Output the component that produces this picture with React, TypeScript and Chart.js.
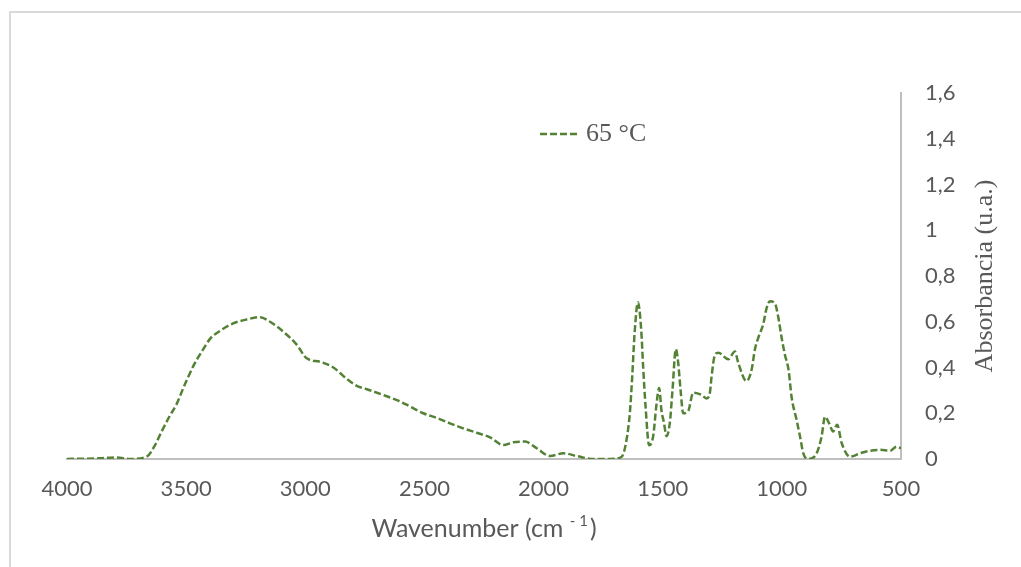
import { useEffect, useRef } from 'react';
import { Chart, registerables } from 'chart.js';

Chart.register(...registerables);

// FTIR spectrum, sample treated at 65 °C
const WAVENUMBERS = [
  4000, 3862, 3792, 3736, 3666, 3631, 3603, 3568, 3540, 3512, 3491, 3463, 3428, 3400,
  3358, 3309, 3246, 3190, 3148, 3085, 3036, 2994, 2938, 2882, 2826, 2784, 2742, 2673,
  2610, 2561, 2505, 2449, 2393, 2337, 2281, 2225, 2169, 2127, 2078, 2029, 1973, 1917,
  1861, 1791, 1721, 1672, 1652, 1638, 1628, 1618, 1604, 1590, 1582, 1572, 1557, 1540,
  1526, 1515, 1505, 1495, 1484, 1470, 1459, 1445, 1435, 1425, 1414, 1393, 1372, 1337,
  1316, 1302, 1295, 1281, 1267, 1225, 1197, 1183, 1148, 1127, 1113, 1099, 1078, 1064,
  1050, 1029, 1015, 1001, 987, 972, 959, 938, 924, 910, 889, 854, 833, 819, 801, 785,
  768, 749, 714, 672, 630, 588, 546, 518, 500,
];

const ABSORBANCE = [
  0, 0.003, 0.007, 0, 0.01, 0.06, 0.12, 0.19, 0.24, 0.31, 0.36, 0.42, 0.48, 0.525,
  0.56, 0.59, 0.61, 0.62, 0.6, 0.55, 0.5, 0.44, 0.425, 0.4, 0.35, 0.32, 0.305, 0.28,
  0.255, 0.23, 0.2, 0.18, 0.156, 0.134, 0.115, 0.095, 0.061, 0.073, 0.076, 0.047, 0.013, 0.025,
  0.013, 0, 0, 0.01, 0.083, 0.2, 0.36, 0.55, 0.685, 0.56, 0.4, 0.23, 0.06, 0.1,
  0.24, 0.31, 0.21, 0.16, 0.1, 0.16, 0.3, 0.48, 0.42, 0.3, 0.2, 0.21, 0.29, 0.28,
  0.265, 0.29, 0.36, 0.455, 0.465, 0.436, 0.47, 0.42, 0.34, 0.39, 0.48, 0.53, 0.59, 0.66,
  0.69, 0.68, 0.62, 0.53, 0.455, 0.39, 0.27, 0.17, 0.1, 0.025, 0, 0.025, 0.1, 0.185, 0.155, 0.12,
  0.15, 0.07, 0.01, 0.025, 0.036, 0.04, 0.036, 0.054, 0.047,
];

const SERIES_LABEL = '65 °C';
const X_RANGE = [500, 4000];
const X_STEP = 500;
const Y_RANGE = [0, 1.6];
const Y_STEP = 0.2;
const X_TITLE = 'Wavenumber (cm ';
const X_TITLE_SUP = '- 1';
const X_TITLE_END = ')';
const Y_TITLE = 'Absorbancia (u.a.)';

const LINE_COLOR = '#548235';
const TEXT_COLOR = '#595959';
const AXIS_COLOR = '#bfbfbf';
const SANS = 'Lato, "Open Sans", sans-serif';
const SERIF = '"Liberation Serif", "Times New Roman", serif';

// Outer frame and white page
const framePlugin = {
  id: 'frame',
  beforeDraw(chart: any) {
    const { ctx, width, height } = chart;
    ctx.save();
    ctx.fillStyle = '#ffffff';
    ctx.fillRect(0, 0, width, height);
    ctx.strokeStyle = '#d9d9d9';
    ctx.lineWidth = 2;
    ctx.beginPath();
    ctx.moveTo(10, height);
    ctx.lineTo(10, 12);
    ctx.lineTo(width, 12);
    ctx.stroke();
    ctx.restore();
  },
};

// Axis titles (y title reads bottom-to-top, x title has a superscript)
const titlesPlugin = {
  id: 'axisTitles',
  afterDraw(chart: any) {
    const { ctx, chartArea } = chart;
    ctx.save();
    ctx.fillStyle = TEXT_COLOR;
    ctx.textBaseline = 'middle';

    // x title
    const mainFont = `25px ${SANS}`;
    const supFont = `15px ${SANS}`;
    ctx.font = mainFont;
    const w1 = ctx.measureText(X_TITLE).width;
    const w3 = ctx.measureText(X_TITLE_END).width;
    ctx.font = supFont;
    const w2 = ctx.measureText(X_TITLE_SUP).width;
    const total = w1 + w2 + w3 + 2;
    let x = (chartArea.left + chartArea.right) / 2 - total / 2;
    const y = 529;
    ctx.textAlign = 'left';
    ctx.font = mainFont;
    ctx.fillText(X_TITLE, x, y);
    x += w1;
    ctx.font = supFont;
    ctx.fillText(X_TITLE_SUP, x, y - 8);
    x += w2 + 2;
    ctx.font = mainFont;
    ctx.fillText(X_TITLE_END, x, y);

    // y title
    ctx.translate(985, (chartArea.top + chartArea.bottom) / 2);
    ctx.rotate(-Math.PI / 2);
    ctx.textAlign = 'center';
    ctx.font = `26px ${SERIF}`;
    ctx.fillText(Y_TITLE, 0, 0);
    ctx.restore();
  },
};

// Legend entry inside the plot area
const legendPlugin = {
  id: 'insideLegend',
  afterDraw(chart: any) {
    const { ctx } = chart;
    const ds = chart.data.datasets[0];
    const ly = 134;
    ctx.save();
    ctx.strokeStyle = ds.borderColor;
    ctx.lineWidth = ds.borderWidth;
    ctx.setLineDash(ds.borderDash);
    ctx.beginPath();
    ctx.moveTo(540, ly);
    ctx.lineTo(578, ly);
    ctx.stroke();
    ctx.setLineDash([]);
    ctx.fillStyle = TEXT_COLOR;
    ctx.font = `26px ${SERIF}`;
    ctx.textAlign = 'left';
    ctx.textBaseline = 'middle';
    ctx.fillText(ds.label, 586, ly);
    ctx.restore();
  },
};

export default function App() {
  const canvasRef = useRef<HTMLCanvasElement | null>(null);

  useEffect(() => {
    const canvas = canvasRef.current;
    if (!canvas) return;
    const points = WAVENUMBERS.map((w, i) => ({ x: w, y: ABSORBANCE[i] }));
    const tickFont = { family: SANS, size: 22 };

    const chart = new Chart(canvas, {
      type: 'line',
      data: {
        datasets: [
          {
            label: SERIES_LABEL,
            data: points,
            borderColor: LINE_COLOR,
            borderWidth: 2.5,
            borderDash: [7, 3],
            pointRadius: 0,
            fill: false,
            cubicInterpolationMode: 'monotone',
          },
        ],
      },
      options: {
        responsive: false,
        animation: false,
        devicePixelRatio: 1,
        layout: { padding: { left: 67, top: 93, right: 0, bottom: 0 } },
        plugins: {
          legend: { display: false },
          tooltip: { enabled: false },
        },
        scales: {
          x: {
            type: 'linear',
            reverse: true,
            min: X_RANGE[0],
            max: X_RANGE[1],
            grid: { display: false, drawTicks: false },
            border: { display: true, color: AXIS_COLOR, width: 2 },
            ticks: {
              stepSize: X_STEP,
              padding: 17,
              color: TEXT_COLOR,
              font: tickFont,
              maxRotation: 0,
              autoSkip: false,
              callback: (v: any) => String(v),
            },
            afterFit: (s: any) => {
              s.height = 108;
            },
          },
          y: {
            position: 'right',
            min: Y_RANGE[0],
            max: Y_RANGE[1],
            grid: { display: false, drawTicks: false },
            border: { display: true, color: AXIS_COLOR, width: 2 },
            ticks: {
              stepSize: Y_STEP,
              padding: 24,
              color: TEXT_COLOR,
              font: tickFont,
              callback: (v: any) => String(Math.round(Number(v) * 10) / 10).replace('.', ','),
            },
            afterFit: (s: any) => {
              s.width = 120;
            },
          },
        },
      },
      plugins: [framePlugin, titlesPlugin, legendPlugin],
    } as any);

    return () => chart.destroy();
  }, []);

  return (
    <div style={{ position: 'absolute', left: 0, top: 0, width: 1021, height: 567, background: '#fff' }}>
      <canvas ref={canvasRef} width={1021} height={567} style={{ display: 'block' }} />
    </div>
  );
}
